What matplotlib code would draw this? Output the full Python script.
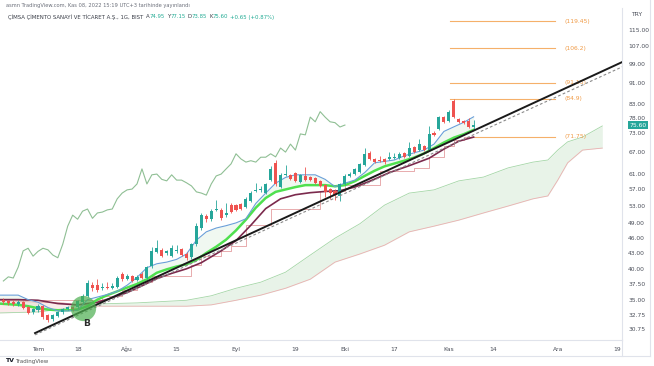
import numpy as np
import pandas as pd
import matplotlib
matplotlib.use("Agg")
import matplotlib.pyplot as plt
from matplotlib.lines import Line2D
from matplotlib.ticker import NullLocator, FixedLocator, FixedFormatter
import matplotlib.transforms as mtransforms

# --- data --------------------------------------------------------------------

# daily bars, BIST trading days from 22 Jun 2022 to 8 Nov 2022
HOLIDAYS = ["2022-07-11", "2022-07-12", "2022-07-15", "2022-08-30"]
FIRST_DAY = "2022-06-22"
FIRST_IDX = -7          # bar index of FIRST_DAY (1 Jul 2022 = 0)

opens = [34.9, 34.8, 34.6, 34.3, 34.6, 33.9, 33.2,
         33.4, 34.0, 32.7, 32.1, 32.6, 33.1, 33.6, 33.9, 33.9, 34.6,
         35.6, 37.3, 37.3, 36.8, 37.0, 36.8, 37.0, 39.2, 38.3, 38.8,
         38.2, 39.2, 38.5, 40.6, 43.2, 43.6, 42.9, 42.4, 43.4, 43.7,
         42.8, 42.2, 44.7, 48.0, 50.6, 49.9, 52.0, 52.0, 50.8, 53.1,
         53.1, 53.3, 52.7, 54.1, 56.6, 56.8, 56.1, 59.3, 63.9, 57.6,
         60.7, 60.7, 61.2, 58.8, 60.4, 60.1, 59.8, 59.1, 58.0, 57.0,
         56.6, 55.3, 58.3, 60.4, 60.9, 61.4, 63.4, 66.9, 65.1, 64.8,
         65.1, 65.1, 65.4, 65.4, 66.9, 66.0, 68.6, 67.7, 68.9, 67.7,
         73.0, 74.3, 78.3, 77.0, 83.9, 77.7, 77.0, 77.0, 74.95]
highs = [35.2, 35.0, 34.9, 34.9, 34.8, 34.1, 33.8,
         34.3, 34.2, 32.9, 32.9, 33.3, 33.8, 34.1, 34.1, 35.0, 35.9,
         38.2, 37.9, 38.3, 37.6, 37.8, 37.6, 38.9, 39.6, 39.2, 39.0,
         39.0, 39.5, 40.6, 44.2, 45.6, 44.0, 43.6, 44.6, 44.6, 44.0,
         43.1, 45.0, 49.0, 51.4, 51.0, 52.1, 54.3, 52.4, 53.6, 53.6,
         53.4, 53.6, 55.0, 56.4, 58.6, 57.8, 58.6, 63.0, 64.8, 61.2,
         63.4, 61.0, 61.5, 61.0, 62.7, 60.4, 60.1, 59.4, 58.3, 57.3,
         56.9, 58.6, 60.9, 61.4, 62.6, 64.0, 68.3, 67.4, 65.4, 66.0,
         65.4, 67.0, 66.9, 67.0, 67.2, 70.2, 68.9, 71.0, 69.2, 75.3,
         73.6, 78.8, 78.6, 80.8, 84.9, 78.0, 77.3, 78.0, 77.15]
lows = [34.3, 34.2, 34.1, 34.0, 33.6, 32.8, 32.9,
        33.2, 32.2, 31.7, 31.9, 32.4, 32.9, 33.4, 33.3, 33.7, 34.4,
        35.4, 36.4, 36.2, 36.5, 36.6, 36.6, 36.8, 38.0, 38.1, 37.8,
        38.0, 38.3, 38.3, 40.3, 43.0, 42.2, 42.7, 42.2, 43.0, 42.4,
        41.6, 41.9, 44.3, 47.6, 49.4, 49.6, 51.7, 49.8, 50.5, 51.2,
        51.7, 52.0, 52.4, 53.8, 56.3, 56.3, 55.8, 59.0, 57.8, 57.3,
        60.3, 59.2, 58.8, 58.5, 59.0, 59.0, 58.3, 57.5, 55.0, 54.6,
        54.3, 54.0, 58.0, 60.1, 60.6, 61.1, 63.1, 64.8, 63.9, 64.3,
        63.8, 64.8, 65.0, 65.1, 65.4, 65.7, 66.8, 67.4, 67.4, 67.4,
        72.0, 74.0, 76.4, 76.7, 78.0, 76.3, 76.0, 74.7, 73.85]
closes = [34.6, 34.5, 34.3, 34.6, 33.8, 33.0, 33.6,
          34.0, 32.4, 32.0, 32.7, 33.1, 33.6, 33.9, 33.6, 34.8, 35.6,
          37.7, 36.8, 36.5, 37.0, 36.9, 37.1, 38.5, 38.3, 38.8, 38.0,
          38.7, 38.5, 40.4, 43.4, 43.9, 42.4, 43.3, 43.9, 43.6, 42.6,
          42.1, 44.7, 48.4, 50.8, 49.9, 51.7, 52.2, 50.1, 51.3, 51.5,
          52.0, 52.2, 54.6, 56.0, 56.8, 57.0, 58.3, 62.3, 58.3, 60.7,
          60.9, 59.5, 59.1, 60.7, 59.3, 59.3, 58.6, 57.8, 56.3, 56.0,
          55.5, 58.3, 60.4, 60.9, 62.3, 63.7, 66.6, 65.1, 64.2, 64.6,
          64.2, 65.6, 65.6, 66.6, 65.7, 68.3, 67.1, 69.5, 67.7, 72.7,
          72.4, 78.3, 76.7, 80.2, 78.3, 76.7, 76.4, 74.95, 75.60]

LAG_SHIFT = 26

# conversion line (blue) and fast average (green), every second bar
line_idx = list(range(-8, 89, 2))
tenkan = [35.7, 35.7, 35.7, 35.0, 34.6, 33.8, 33.3, 33.3, 33.4, 35.0,
          35.4, 35.8, 36.3, 37.3, 38.6, 40.3, 41.0, 41.3, 41.8, 42.8,
          45.5, 47.2, 48.0, 48.5, 49.1, 50.0, 53.5, 56.0, 58.5, 60.0,
          60.7, 60.7, 60.7, 59.5, 57.6, 58.5, 59.3, 61.3, 64.0, 64.4,
          64.8, 66.0, 66.9, 67.7, 69.5, 73.5, 75.0, 76.5, 78.4]
ema_fast = [34.4, 34.3, 34.2, 34.0, 33.7, 33.5, 33.4, 33.4, 33.5, 34.0,
            35.0, 35.7, 36.3, 36.9, 37.5, 38.3, 39.4, 40.0, 40.5, 40.9,
            41.7, 43.0, 44.2, 45.6, 47.5, 49.8, 52.5, 54.8, 56.3, 56.9,
            57.5, 58.0, 58.0, 58.0, 57.7, 58.0, 59.0, 60.4, 61.8, 63.0,
            63.8, 64.6, 65.5, 66.7, 68.3, 70.0, 71.5, 72.6, 74.0]

# slow average (maroon)
slow_idx = [-8, -4, 0, 4, 8, 12, 15, 18, 21, 24, 27, 30, 33, 37, 40, 43,
            46, 49, 52, 55, 58, 61, 64, 67, 71, 75, 79, 82, 85, 88]
ema_slow = [35.0, 35.0, 34.9, 34.4, 34.2, 34.6, 35.3, 36.1, 37.2, 38.4,
            39.3, 40.1, 41.2, 43.4, 45.4, 48.6, 52.3, 54.6, 55.6, 56.1,
            56.4, 56.6, 57.5, 59.0, 61.3, 63.2, 65.3, 68.0, 70.4, 71.7]

# base line (thin red, steps)
kijun_idx = [-8, 13, 17, 20, 23, 31, 33, 37, 39, 42, 47, 57, 62, 69, 76,
             79, 82, 84, 86, 88]
kijun = [34.9, 35.6, 36.5, 37.8, 38.8, 40.8, 42.4, 43.4, 44.3, 48.6,
         52.3, 56.6, 58.0, 61.6, 62.6, 65.6, 68.9, 70.8, 71.7, 71.7]

# cloud
cloud_idx = [-8, 0, 5, 8, 10, 20, 30, 35, 40, 45, 50, 55, 60, 65, 70, 75,
             80, 85, 90, 95, 100, 103, 105, 107, 110, 114]
span_a = [33.0, 33.15, 33.6, 34.2, 34.3, 34.5, 34.9, 35.6, 36.8, 37.8,
          39.5, 42.6, 45.9, 48.9, 53.1, 56.0, 56.8, 59.1, 60.1, 62.6,
          64.2, 64.8, 67.7, 70.2, 71.7, 75.3]
span_b = [34.9, 34.6, 34.5, 34.2, 34.0, 34.0, 34.0, 34.2, 34.9, 35.7,
          36.8, 38.3, 41.3, 42.8, 44.5, 47.2, 48.4, 49.7, 51.3, 52.9,
          54.6, 55.3, 59.3, 64.0, 67.7, 68.3]

# trend line and its parallel copy (bar index, price)
trend_x = [-0.6, 118.0]
trend_y = [30.2, 99.8]
trend2_y = [29.96, 97.7]

fib_levels = [119.45, 106.2, 91.15, 84.9, 71.75]
fib_texts = ["(119.45)", "(106.2)", "(91.15)", "(84.9)", "(71.75)"]

tick_dates = ["2022-07-01", "2022-07-18", "2022-08-01", "2022-08-15",
              "2022-09-01", "2022-09-19", "2022-10-03", "2022-10-17",
              "2022-11-01", "2022-11-14", "2022-12-01", "2022-12-19"]
tick_labels = ["Tem", "18", "Ağu", "15", "Eyl", "19", "Eki", "17", "Kas",
               "14", "Ara", "19"]
price_ticks = [30.75, 32.75, 35, 37.5, 40, 43, 46, 49, 53, 57, 61, 67, 73,
               78, 83, 91, 99, 107, 115]
last_price = 75.60

# --- colours -----------------------------------------------------------------
UP = "#26a69a"
DOWN = "#ef5350"
TXT = "#4a4e59"
GRID = "#e0e3eb"

W, H = 654, 366

fig = plt.figure(figsize=(W / 100, H / 100), dpi=100)
ax = fig.add_axes([0, (H - 340) / H, 622 / W, (340 - 8) / H])

# trading day calendar -> bar index
days = pd.bdate_range(FIRST_DAY, "2022-12-30")
days = days[~days.isin(pd.to_datetime(HOLIDAYS))]
day_pos = {d: k + FIRST_IDX for k, d in enumerate(days)}
xs = np.arange(len(closes)) + FIRST_IDX

# cloud
ci = np.array(cloud_idx)
sa = np.array(span_a)
sb = np.array(span_b)
ax.fill_between(ci, sa, sb, where=sa >= sb, interpolate=True,
                color="#43a047", alpha=0.12, lw=0, zorder=1)
ax.fill_between(ci, sa, sb, where=sa < sb, interpolate=True,
                color="#e57373", alpha=0.14, lw=0, zorder=1)
ax.plot(ci, sa, color="#a5d6a7", lw=0.6, zorder=1)
ax.plot(ci, sb, color="#eab0b0", lw=0.6, zorder=1)

# lagging span
ax.plot(xs[LAG_SHIFT:] - LAG_SHIFT, closes[LAG_SHIFT:], color="#8fbf94",
        lw=0.8, zorder=2)

# band between conversion line and fast average
ax.fill_between(line_idx, tenkan, ema_fast, color="#4caf50", alpha=0.08,
                lw=0, zorder=2)
ax.step(kijun_idx, kijun, where="post", color="#e49ea0", lw=0.6, zorder=3)
ax.plot(slow_idx, ema_slow, color="#7b2a4d", lw=1.2, zorder=3)
ax.plot(line_idx, ema_fast, color="#4fe04f", lw=1.8, zorder=3)
ax.plot(line_idx, tenkan, color="#6a9fd8", lw=0.8, zorder=3)

# candles
o = np.array(opens)
c = np.array(closes)
cols = [UP if cc >= oo else DOWN for oo, cc in zip(o, c)]
ax.vlines(xs, lows, highs, colors=cols, lw=0.6, zorder=4)
ax.bar(xs, np.maximum(np.abs(c - o), 0.12), bottom=np.minimum(o, c),
       width=0.62, color=cols, lw=0, zorder=5)

# trend lines
ax.plot(trend_x, trend2_y, color="#8a8a8a", lw=0.8, ls=(0, (2.5, 2)),
        zorder=6)
ax.plot(trend_x, trend_y, color="#1a1a1a", lw=1.4, zorder=6)

# fib levels
for lvl, txt in zip(fib_levels, fib_texts):
    x0 = 86.6 if lvl < 80 else 83.2
    ax.plot([x0, 104.4], [lvl, lvl], color="#f5b06a", lw=0.8, zorder=2)
    ax.text(106.4, lvl, txt, color="#f09a45", fontsize=4.3, va="center",
            ha="left")

# the "B" mark
ax.scatter([9.1], [33.8], s=330, color="#4caf50", alpha=0.7, lw=0,
           zorder=7)
ax.text(9.9, 31.55, "B", fontsize=6.5, fontweight="bold", color="#2b2b2b",
        ha="center", va="center", zorder=8)

# axes
ax.set_yscale("log")
ax.set_ylim(29.29, 126.7)
ax.set_xlim(-7.68, 117.98)
ax.yaxis.tick_right()
ax.yaxis.set_major_locator(FixedLocator(price_ticks))
ax.yaxis.set_major_formatter(FixedFormatter([f"{p:.2f}" for p in price_ticks]))
ax.yaxis.set_minor_locator(NullLocator())
ax.set_xticks([day_pos[pd.Timestamp(d)] for d in tick_dates])
ax.set_xticklabels(tick_labels)
ax.tick_params(axis="both", length=0, labelsize=4.3, labelcolor=TXT)
ax.tick_params(axis="y", pad=4.5)
ax.tick_params(axis="x", pad=5)
for s in ["top", "left"]:
    ax.spines[s].set_visible(False)
for s in ["right", "bottom"]:
    ax.spines[s].set_color(GRID)
    ax.spines[s].set_linewidth(0.8)

# last price tag
tr = mtransforms.blended_transform_factory(ax.transAxes, ax.transData)
ax.text(1.012, last_price, f"{last_price:.2f}", transform=tr, fontsize=4.3,
        color="white", va="center", ha="left", zorder=10, clip_on=False,
        bbox=dict(boxstyle="square,pad=0.25", fc=UP, ec="none"))

# frame of the picture
fig.add_artist(Line2D([0, 650 / W], [1 - 356 / H, 1 - 356 / H], color=GRID,
                      lw=0.8))
fig.add_artist(Line2D([622 / W, 622 / W], [1 - 356 / H, 1 - 340 / H],
                      color=GRID, lw=0.8))
fig.add_artist(Line2D([650 / W, 650 / W], [1 - 356 / H, 1], color=GRID,
                      lw=0.8))
fig.text(631 / W, 1 - 14 / H, "TRY", fontsize=4.3, color=TXT, va="center")

# header
fig.text(6 / W, 1 - 5 / H, "asmn TradingView.com, Kas 08, 2022 15:19 UTC+3 "
         "tarihinde yayınlandı", fontsize=3.7, color="#6b6f7a", va="center")

TEAL = "#22ab94"
runs = [("ÇİMSA ÇİMENTO SANAYİ VE TİCARET A.Ş., 1G, BIST", "#3a3e48", 3),
        ("A", "#3a3e48", 0), ("74.95", TEAL, 2),
        ("Y", "#3a3e48", 0), ("77.15", TEAL, 2),
        ("D", "#3a3e48", 0), ("73.85", TEAL, 2),
        ("K", "#3a3e48", 0), ("75.60", TEAL, 2),
        ("+0.65 (+0.87%)", TEAL, 0)]
renderer = fig.canvas.get_renderer()
xpix = 8
for txt, col, gap in runs:
    t = fig.text(xpix / W, 1 - 17 / H, txt, fontsize=3.9, color=col,
                 va="center", ha="left")
    xpix = t.get_window_extent(renderer).x1 + gap

fig.text(5 / W, 1 - 361 / H, "TV", fontsize=4.5, fontweight="bold",
         color="#131722", va="center")
fig.text(15 / W, 1 - 361 / H, "TradingView", fontsize=4.0, color="#555",
         va="center")

fig.savefig("out.png", dpi=100)
